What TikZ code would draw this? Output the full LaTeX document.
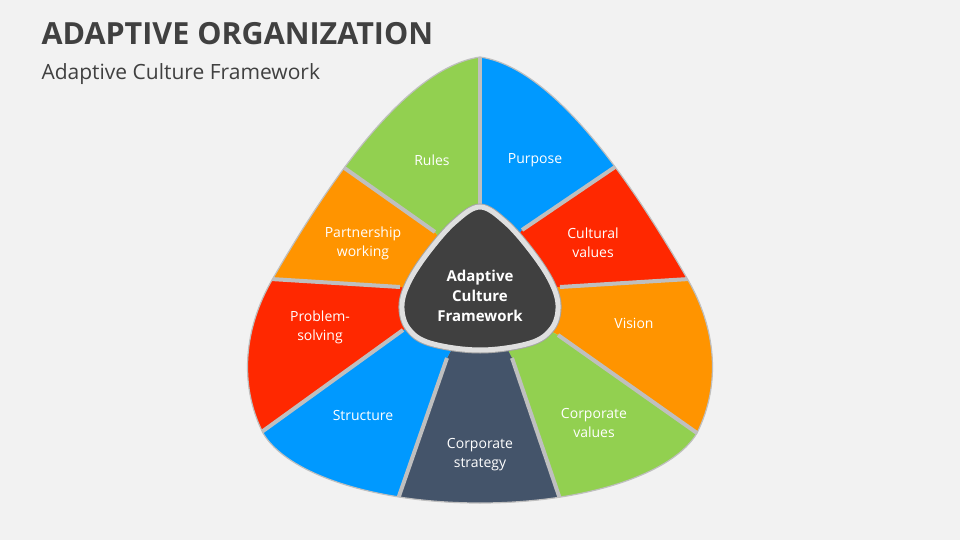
\documentclass[tikz,border=0pt]{standalone}
\usepackage{fontspec}
\setmainfont{Open Sans}
\usetikzlibrary{calc}

\definecolor{bgcol}{HTML}{F2F2F2}
\definecolor{titlecol}{HTML}{404040}
\definecolor{gapcol}{HTML}{BFBFBF}
\definecolor{segGreen}{HTML}{92D050}
\definecolor{segBlue}{HTML}{0099FF}
\definecolor{segOrange}{HTML}{FF9400}
\definecolor{segRed}{HTML}{FF2800}
\definecolor{segSlate}{HTML}{44546A}
\definecolor{coreCol}{HTML}{404040}

\def\outershape{(480,57) .. controls (405,68) and (327,185) .. (272,280)
  .. controls (244.5,327.6) and (238.3,383.5) .. (263,433)
  .. controls (285.5,472) and (370,503) .. (480,503)
  .. controls (590,503) and (674.5,472) .. (697,433)
  .. controls (721.7,383.5) and (715.5,327.6) .. (688,280)
  .. controls (633,185) and (555,68) .. (480,57) -- cycle}

\begin{document}
\begin{tikzpicture}[x=1pt,y=-1pt,
    seglabel/.style={text=white,align=center,font=\fontsize{14}{19}\selectfont},
    gapline/.style={draw=gapcol,line width=4pt},
    ]
  \useasboundingbox[fill=bgcol] (0,0) rectangle (960,540);

  \node[anchor=base west,text=titlecol,font=\fontsize{30.5}{36}\selectfont\bfseries] (title) at (38,45) {ADAPTIVE ORGANIZATION};
  \node[anchor=base west,text=titlecol,font=\fontsize{21}{24}\selectfont] (subtitle) at (38,80) {Adaptive Culture Framework};

  % dividers: inner end / outer end
  \coordinate (core) at (480,295);
  \foreach \n/\ix/\iy/\ox/\oy in {0/480/240/480/57,1/522/230/615/167,2/560/287/689/279,
    3/558/335/697/433,4/512/358/560/499,5/447/358/398/499,6/403/330/263/431,
    7/400/287/271/279,8/435/232/343/167} {
    \coordinate (a\n in) at (\ix,\iy);
    \coordinate (a\n ext) at ($(\ix,\iy)!2!(\ox,\oy)$);
  }

  \begin{scope}
    \clip \outershape;
    \foreach \a/\b/\c in {0/1/segBlue,1/2/segRed,2/3/segOrange,3/4/segGreen,4/5/segSlate,
      5/6/segBlue,6/7/segRed,7/8/segOrange,8/0/segGreen} {
      \fill[\c] (core) -- (a\a in) -- (a\a ext) -- (a\b ext) -- (a\b in) -- cycle;
    }
    \foreach \n in {0,...,8}
      \draw[gapline] (a\n in) -- (a\n ext);
  \end{scope}
  \draw[gapcol,line width=1.2pt] \outershape;

  % center
  \def\coreshape{plot[smooth cycle,tension=0.6] coordinates {(480,207) (505,222) (530,250) (550,280)
    (558,305) (552,328) (530,343) (480,350) (430,343) (408,328) (402,305) (410,280)
    (430,250) (455,222)}}
  \draw[gray!70,line width=7pt] \coreshape;
  \draw[fill=coreCol,draw=gray!25,line width=5pt] \coreshape;
  \node[text=white,align=center,font=\fontsize{15}{20}\selectfont\bfseries] (center) at (480,296) {Adaptive\\Culture\\Framework};

  \node[seglabel] (rules) at (432,160) {Rules};
  \node[seglabel] (purpose) at (535,160) {Purpose};
  \node[seglabel] (partner) at (363,243) {Partnership\\working};
  \node[seglabel] (cultural) at (593,243) {Cultural\\values};
  \node[seglabel] (problem) at (320,327) {Problem-\\solving};
  \node[seglabel] (vision) at (634,323) {Vision};
  \node[seglabel] (structure) at (363,415) {Structure};
  \node[seglabel] (corpval) at (594,423) {Corporate\\values};
  \node[seglabel] (corpstrat) at (480,455) {Corporate\\strategy};
\end{tikzpicture}
\end{document}
